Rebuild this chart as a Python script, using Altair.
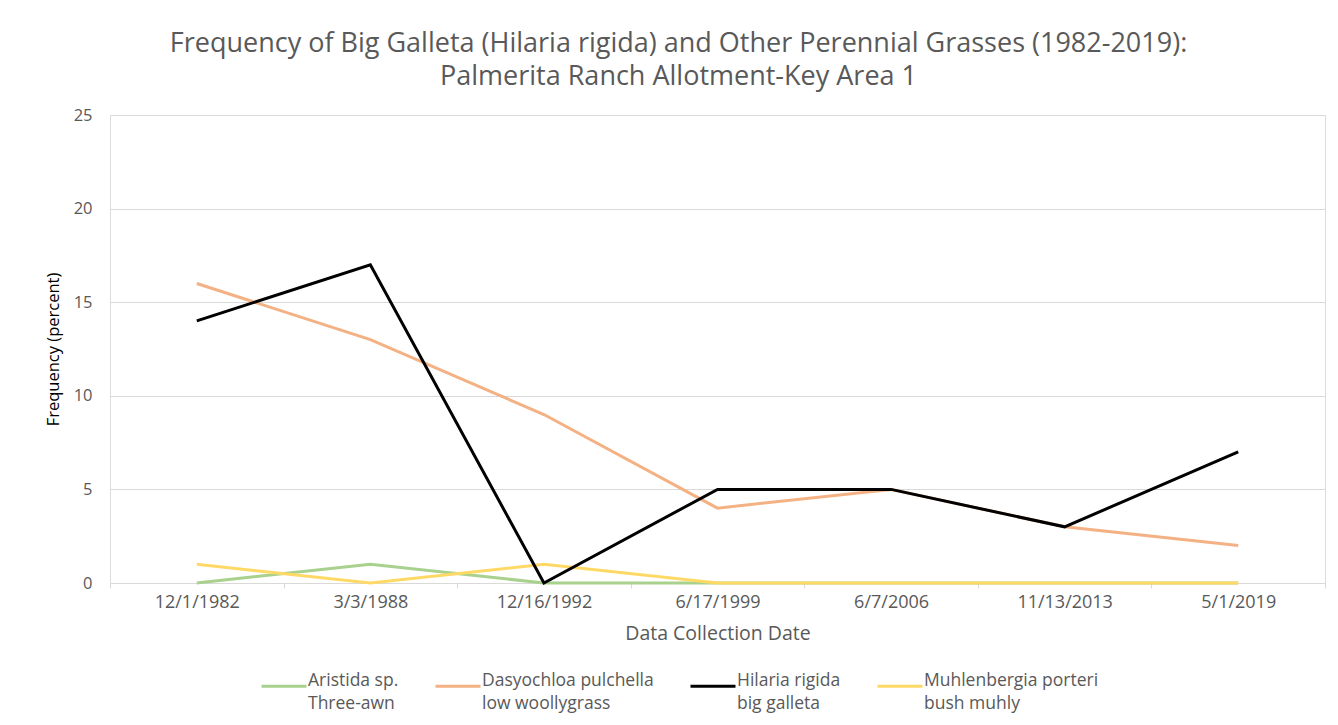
import altair as alt
import pandas as pd

dates = ["12/1/1982", "3/3/1988", "12/16/1992", "6/17/1999", "6/7/2006", "11/13/2013", "5/1/2019"]
aristida = [0, 1, 0, 0, 0, 0, 0]
dasyochloa = [16, 13, 9, 4, 5, 3, 2]
hilaria = [14, 17, 0, 5, 5, 3, 7]
muhlenbergia = [1, 0, 1, 0, 0, 0, 0]

series_names = [
    "Aristida sp.|Three-awn",
    "Dasyochloa pulchella|low woollygrass",
    "Hilaria rigida|big galleta",
    "Muhlenbergia porteri|bush muhly",
]
series_values = [aristida, dasyochloa, hilaria, muhlenbergia]
colors = ["#a9d18e", "#f4b183", "#000000", "#ffd966"]
stroke_widths = [3, 3, 4.5, 3]

rows = []
for name, vals in zip(series_names, series_values):
    for d, v in zip(dates, vals):
        rows.append({"date": d, "value": v, "series": name})
df = pd.DataFrame(rows)

FONT = "Open Sans"
GRAY = "#595959"

x_enc = alt.X(
    "date:O",
    sort=dates,
    scale=alt.Scale(type="band", paddingInner=0, paddingOuter=0),
    bandPosition=0.5,
    axis=alt.Axis(
        title="Data Collection Date",
        labelAngle=0,
        tickBand="extent",
        tickSize=5,
        tickColor="#d9d9d9",
        domainColor="#d9d9d9",
        labelPadding=5,
        labelFontSize=18,
        labelColor=GRAY,
        labelFont=FONT,
        titleFont=FONT,
        titleFontSize=19.5,
        titleFontWeight="normal",
        titleColor=GRAY,
        titlePadding=13,
        grid=False,
    ),
)
y_enc = alt.Y(
    "value:Q",
    scale=alt.Scale(domain=[0, 25]),
    axis=alt.Axis(
        title="Frequency (percent)",
        values=[0, 5, 10, 15, 20, 25],
        ticks=False,
        domain=False,
        gridColor="#d9d9d9",
        labelPadding=18,
        labelFontSize=16.5,
        labelColor=GRAY,
        labelFont=FONT,
        titleFont=FONT,
        titleFontSize=16.5,
        titleFontWeight="normal",
        titleColor="#000000",
        titlePadding=12,
    ),
)
color_enc = alt.Color(
    "series:N",
    scale=alt.Scale(domain=series_names, range=colors),
    legend=alt.Legend(
        title=None,
        orient="none",
        legendX=150,
        legendY=547,
        direction="horizontal",
        columns=4,
        columnPadding=30,
        symbolType="stroke",
        symbolSize=2025,
        labelFont=FONT,
        labelFontSize=17.5,
        labelColor=GRAY,
        labelLimit=400,
        labelOffset=0,
        labelBaseline="alphabetic",
        labelExpr="split(datum.label, '|')",
        padding=0,
    ),
)
sw_enc = alt.StrokeWidth(
    "series:N",
    scale=alt.Scale(domain=series_names, range=stroke_widths),
    legend=None,
)

base = alt.Chart(df).encode(x=x_enc, y=y_enc, color=color_enc, strokeWidth=sw_enc)
light = base.transform_filter(alt.datum.series != series_names[2]).mark_line()
dark = base.transform_filter(alt.datum.series == series_names[2]).mark_line()

chart = (
    alt.layer(light, dark)
    .properties(
        width=1215,
        height=468,
        autosize=alt.AutoSizeParams(type="none"),
        padding={"left": 102, "top": 107, "right": 5, "bottom": 142},
        title=alt.TitleParams(
            [
                "Frequency of Big Galleta (Hilaria rigida) and Other Perennial Grasses (1982-2019):",
                "Palmerita Ranch Allotment-Key Area 1",
            ],
            font=FONT,
            fontSize=27,
            fontWeight="normal",
            color=GRAY,
            anchor="middle",
            dx=-39,
            lineHeight=33,
            baseline="bottom",
            offset=-11,
        ),
    )
    .configure_view(stroke=None)
    .configure(background="white", style={"guide-label": {"lineHeight": 23}})
)

chart.save("out.html", embed_options={"renderer": "svg", "actions": False})
